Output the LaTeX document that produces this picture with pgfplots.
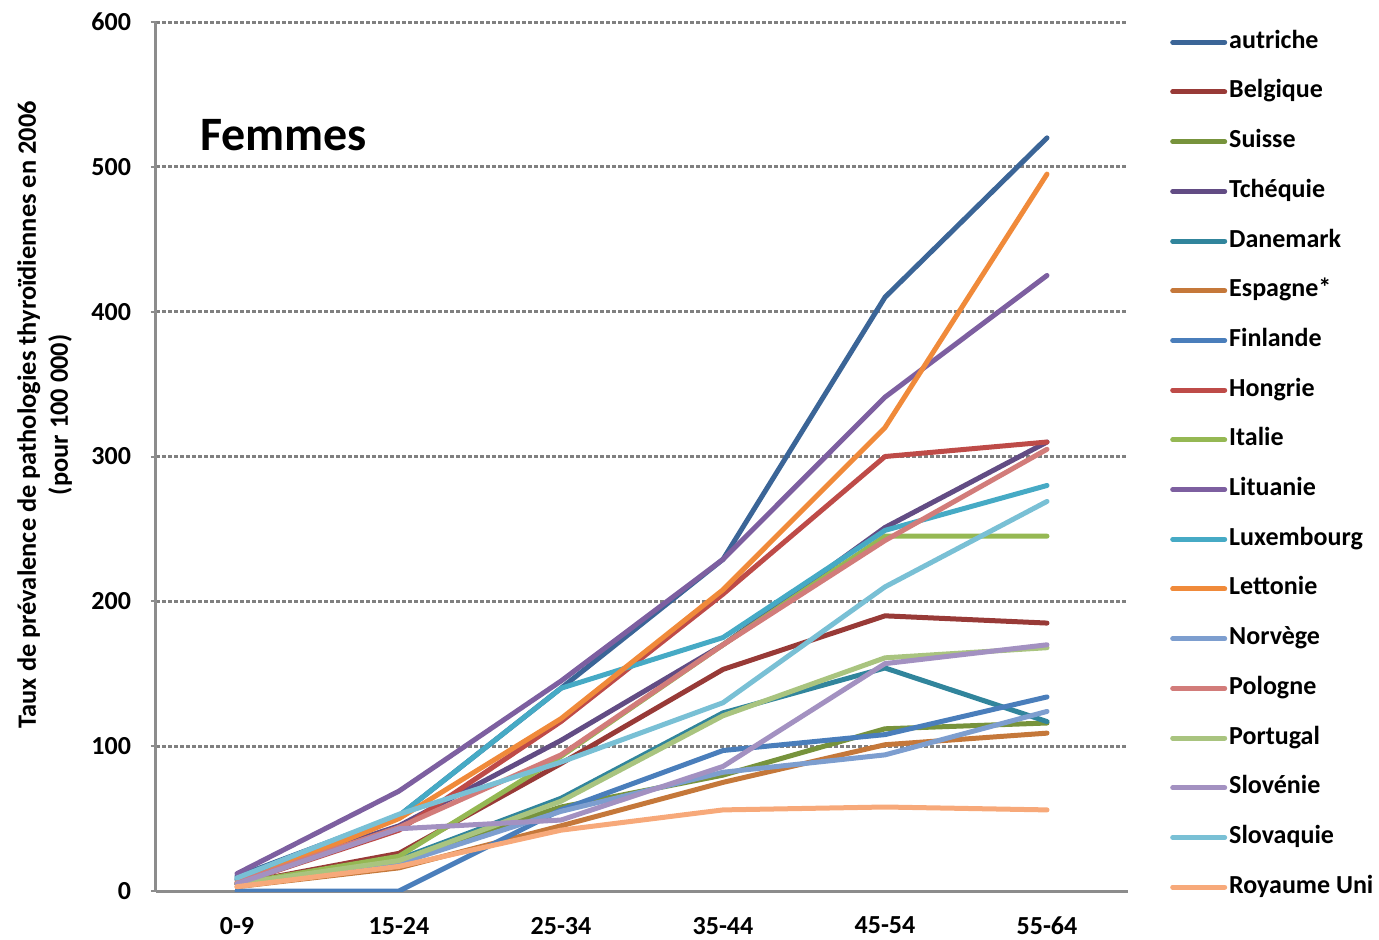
\documentclass[border=0pt]{standalone}
\usepackage{fontspec}
\setmainfont{Carlito}
\usepackage{pgfplots}
\usepackage{pgfplotstable}
\pgfplotsset{compat=1.18}

\definecolor{caut}{HTML}{3B6597}
\definecolor{cbel}{HTML}{983A37}
\definecolor{csui}{HTML}{77933C}
\definecolor{ctch}{HTML}{624C84}
\definecolor{cdan}{HTML}{31859C}
\definecolor{cesp}{HTML}{C5783A}
\definecolor{cfin}{HTML}{4A7EBB}
\definecolor{chon}{HTML}{BE4B48}
\definecolor{cita}{HTML}{95B853}
\definecolor{clit}{HTML}{7D5FA0}
\definecolor{clux}{HTML}{46AAC5}
\definecolor{clet}{HTML}{F08A3A}
\definecolor{cnor}{HTML}{7D9ECF}
\definecolor{cpol}{HTML}{D27C7A}
\definecolor{cpor}{HTML}{A9C47F}
\definecolor{cslo}{HTML}{A391C1}
\definecolor{cslq}{HTML}{79C0D5}
\definecolor{cru}{HTML}{F7A97A}
\definecolor{axgray}{HTML}{8C8C8C}

% prevalence pour 100 000, femmes, par classe d'age (0 = 0-9 ... 5 = 55-64)
\pgfplotstableread{
x aut bel sui tch dan esp fin hon ita lit lux let nor pol por slo slq ru
0 10  5   5   8   5   3   0   5   5   12  8   5   5   6   5   5   9   3
1 52  26  22  45  22  16  0   42  24  69  52  50  19  44  21  43  53  17
2 140 88  58  104 64  45  56  117 93  145 140 119 55  94  62  49  89  42
3 229 153 80  170 123 75  97  205 170 229 175 208 82  170 121 86  130 56
4 410 190 112 251 154 101 108 300 245 341 249 320 94  242 161 157 210 58
5 520 185 116 310 117 109 134 310 245 425 280 495 124 305 168 170 269 56
}\femmes

\begin{document}
\begin{tikzpicture}
\begin{axis}[
    name=ax,
    scale only axis,
    width=486pt, height=434.5pt,
    xmin=-0.5, xmax=5.5,
    ymin=0, ymax=600,
    xtick={0,...,5},
    xticklabels={0-9,15-24,25-34,35-44,45-54,55-64},
    ytick={0,100,...,600},
    axis x line*=bottom,
    axis y line*=left,
    axis line style={draw=axgray, line width=1.5pt, -},
    x tick style={draw=none},
    y tick style={draw=axgray, line width=1pt},
    tick align=outside,
    major tick length=2.5pt,
    ymajorgrids,
    grid style={draw=gray, line width=1.5pt, dash pattern=on 2pt off 1pt},
    tick label style={font=\fontsize{13}{15}\selectfont\bfseries},
    /pgf/number format/assume math mode=true,
    xticklabel style={yshift=-7pt},
    yticklabel style={xshift=-6.5pt},
    ylabel={Taux de prévalence de pathologies thyroïdiennes en 2006\\(pour 100 000)},
    ylabel style={at={(axis description cs:-0.0792,0.548)}, anchor=south,
        align=center, font=\fontsize{13.2}{16}\selectfont\bfseries},
    legend style={at={(axis description cs:1.043,0.991)}, anchor=north west,
        draw=none, fill=none, inner sep=0pt, row sep=12.85pt,
        font=\fontsize{13}{15}\selectfont\bfseries,
        nodes={inner xsep=1pt, inner ysep=0pt, text height=9pt, text depth=3pt}},
    legend cell align=left,
    legend image code/.code={\draw[line width=2.5pt, line cap=round, #1] (0pt,0pt) -- (26pt,0pt);},
    every axis plot/.append style={line width=2.5pt, line join=round, line cap=round, mark=none},
]
\addplot[caut] table[x=x, y=aut] {\femmes};
\addlegendentry{autriche}
\addplot[cbel] table[x=x, y=bel] {\femmes};
\addlegendentry{Belgique}
\addplot[csui] table[x=x, y=sui] {\femmes};
\addlegendentry{Suisse}
\addplot[ctch] table[x=x, y=tch] {\femmes};
\addlegendentry{Tchéquie}
\addplot[cdan] table[x=x, y=dan] {\femmes};
\addlegendentry{Danemark}
\addplot[cesp] table[x=x, y=esp] {\femmes};
\addlegendentry{Espagne*}
\addplot[cfin] table[x=x, y=fin] {\femmes};
\addlegendentry{Finlande}
\addplot[chon] table[x=x, y=hon] {\femmes};
\addlegendentry{Hongrie}
\addplot[cita] table[x=x, y=ita] {\femmes};
\addlegendentry{Italie}
\addplot[clit] table[x=x, y=lit] {\femmes};
\addlegendentry{Lituanie}
\addplot[clux] table[x=x, y=lux] {\femmes};
\addlegendentry{Luxembourg}
\addplot[clet] table[x=x, y=let] {\femmes};
\addlegendentry{Lettonie}
\addplot[cnor] table[x=x, y=nor] {\femmes};
\addlegendentry{Norvège}
\addplot[cpol] table[x=x, y=pol] {\femmes};
\addlegendentry{Pologne}
\addplot[cpor] table[x=x, y=por] {\femmes};
\addlegendentry{Portugal}
\addplot[cslo] table[x=x, y=slo] {\femmes};
\addlegendentry{Slovénie}
\addplot[cslq] table[x=x, y=slq] {\femmes};
\addlegendentry{Slovaquie}
\addplot[cru] table[x=x, y=ru] {\femmes};
\addlegendentry{Royaume Uni}

\node[anchor=west, font=\fontsize{24}{28}\selectfont\bfseries, inner sep=0pt]
    at (rel axis cs:0.045,0.87) {Femmes};
\end{axis}
\pgfresetboundingbox
\path[use as bounding box] ([xshift=-78pt,yshift=-24pt]ax.south west) rectangle ++(689.5pt,469.5pt);
\end{tikzpicture}
\end{document}
